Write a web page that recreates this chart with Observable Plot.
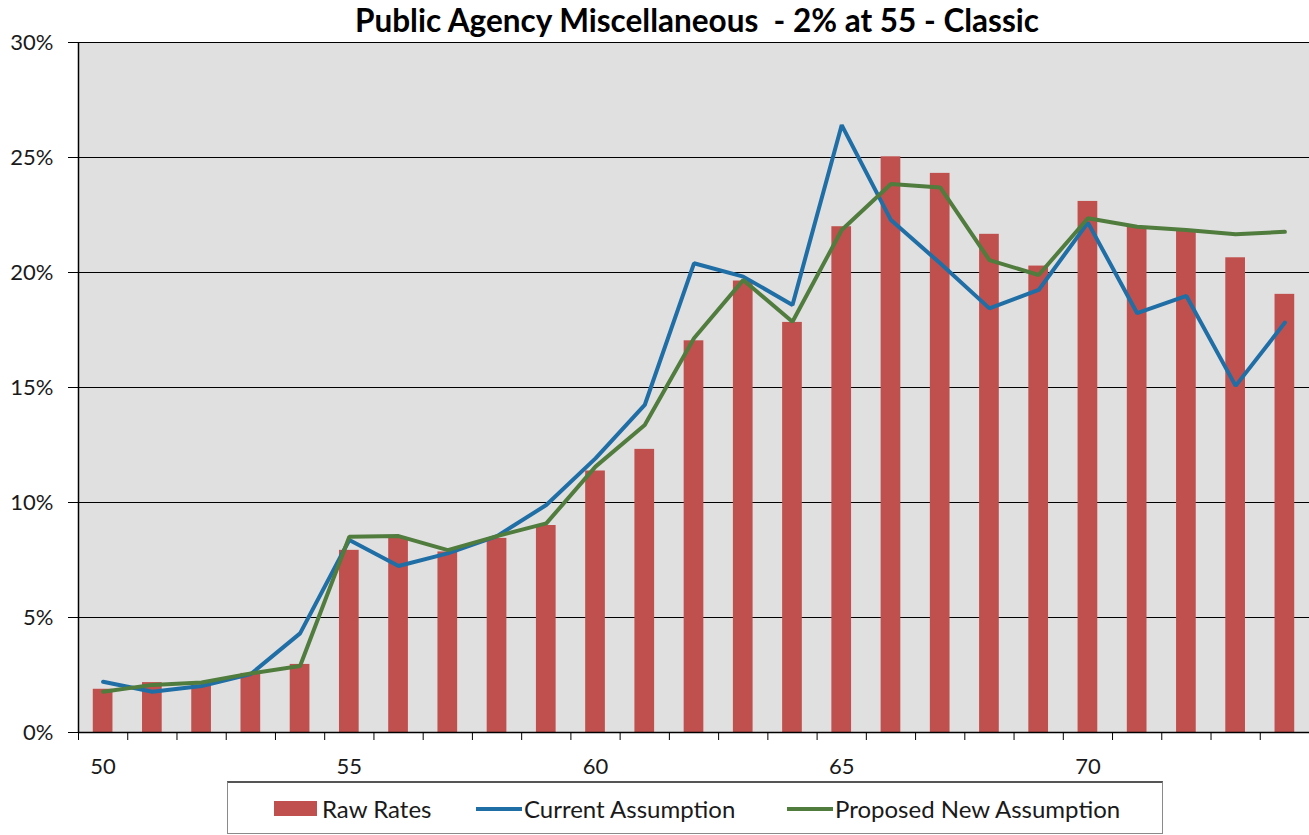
<!DOCTYPE html>
<html>
<head>
<meta charset="utf-8">
<script src="https://cdn.jsdelivr.net/npm/d3@7"></script>
<script src="https://cdn.jsdelivr.net/npm/@observablehq/plot@0.6"></script>
<style>
  html, body { margin: 0; padding: 0; background: #fff; }
  body { width: 1309px; height: 835px; position: relative; overflow: hidden; font-family: Lato, "Open Sans", sans-serif; color: #1a1a1a; }
  #title { position: absolute; left: 0; top: 2px; width: 1309px; text-align: center; padding-left: 85px; box-sizing: border-box; font-weight: bold; font-size: 31.5px; line-height: 1.2; color: #000; white-space: pre; }
  #chart { position: absolute; left: 0; top: 14px; }
  #legend { position: absolute; left: 227px; top: 781px; width: 936px; height: 53px; box-sizing: border-box; border: 1px solid #8a8a8a; border-top: 2px solid #555; background: #fff; }
  .item { position: absolute; top: 0; height: 51px; display: flex; align-items: center; font-size: 24px; color: #1a1a1a; white-space: nowrap; }
  .swatch { display: inline-block; width: 43px; height: 15px; margin-right: 5px; }
  .lsw { display: inline-block; width: 46px; height: 4px; margin-right: 2px; }
</style>
</head>
<body>
<div id="title"></div>
<div id="chart"></div>
<div id="legend"></div>
<script>
const titleText = "Public Agency Miscellaneous  - 2% at 55 - Classic";
const ages = [50, 51, 52, 53, 54, 55, 56, 57, 58, 59, 60, 61, 62, 63, 64, 65, 66, 67, 68, 69, 70, 71, 72, 73, 74];
const rawRates = [1.88, 2.17, 2.07, 2.57, 2.96, 7.92, 8.44, 7.85, 8.44, 9.0, 11.37, 12.31, 17.03, 19.63, 17.83, 21.99, 25.03, 24.31, 21.66, 20.28, 23.09, 22.0, 21.8, 20.64, 19.05];
const currentAssumption = [2.21, 1.77, 2.02, 2.54, 4.31, 8.37, 7.24, 7.79, 8.54, 9.89, 11.92, 14.24, 20.40, 19.82, 18.59, 26.41, 22.28, 20.4, 18.44, 19.24, 22.17, 18.23, 18.98, 15.07, 17.82];
const proposedAssumption = [1.77, 2.07, 2.17, 2.57, 2.89, 8.51, 8.54, 7.93, 8.54, 9.09, 11.56, 13.37, 17.14, 19.67, 17.86, 21.85, 23.85, 23.70, 20.54, 19.89, 22.36, 21.99, 21.85, 21.66, 21.77];
const yTicks = [0, 5, 10, 15, 20, 25, 30];
const xLabelTicks = [50, 55, 60, 65, 70];
const seriesNames = ["Raw Rates", "Current Assumption", "Proposed New Assumption"];
const colors = ["#C0504D", "#1F6EA6", "#507C3E"];

const rows = ages.map((age, i) => ({age, raw: rawRates[i], current: currentAssumption[i], proposed: proposedAssumption[i]}));
const barHalf = 0.2;
const bandEdges = d3.range(ages[0] - 0.5, ages[ages.length - 1] + 1, 1);

document.getElementById("title").textContent = titleText;

const chart = Plot.plot({
  width: 1309,
  height: 766,
  marginTop: 28,
  marginBottom: 48,
  marginLeft: 78,
  marginRight: 0,
  style: {fontFamily: "Lato, 'Open Sans', sans-serif", fontSize: "22px", color: "#1a1a1a", background: "transparent", overflow: "visible"},
  x: {type: "linear", domain: [ages[0] - 0.5, ages[ages.length - 1] + 0.5]},
  y: {domain: [0, 30]},
  marks: [
    Plot.frame({fill: "#E0E0E0", stroke: "none"}),
    Plot.ruleY(yTicks.filter(d => d > 0), {stroke: "#000", strokeWidth: 1}),
    Plot.rect(rows, {x1: d => d.age - barHalf, x2: d => d.age + barHalf, y1: () => 0, y2: "raw", fill: colors[0]}),
    Plot.line(rows, {x: "age", y: "current", stroke: colors[1], strokeWidth: 4, strokeLinejoin: "miter"}),
    Plot.line(rows, {x: "age", y: "proposed", stroke: colors[2], strokeWidth: 4, strokeLinejoin: "miter"}),
    Plot.ruleX([ages[0] - 0.5], {stroke: "#000", strokeWidth: 1.5}),
    Plot.ruleY([0], {stroke: "#000", strokeWidth: 1.5}),
    Plot.axisY({ticks: yTicks, tickFormat: d => d + "%", tickSize: 10, tickPadding: 15, stroke: "#000", label: null}),
    Plot.axisX({ticks: bandEdges, tickFormat: () => "", tickSize: 8, stroke: "#000", label: null}),
    Plot.axisX({ticks: xLabelTicks, tickFormat: d => String(d), tickSize: 0, tickPadding: 26, label: null})
  ]
});
document.getElementById("chart").appendChild(chart);

const legend = document.getElementById("legend");
const legendItems = [
  {name: seriesNames[0], left: 46, kind: "bar", color: colors[0]},
  {name: seriesNames[1], left: 248, kind: "line", color: colors[1]},
  {name: seriesNames[2], left: 559, kind: "line", color: colors[2]}
];
legendItems.forEach(it => {
  const el = document.createElement("div");
  el.className = "item";
  el.style.left = it.left + "px";
  const sw = document.createElement("span");
  sw.className = it.kind === "bar" ? "swatch" : "lsw";
  sw.style.background = it.color;
  el.appendChild(sw);
  const t = document.createElement("span");
  t.textContent = it.name;
  el.appendChild(t);
  legend.appendChild(el);
});
</script>
</body>
</html>
